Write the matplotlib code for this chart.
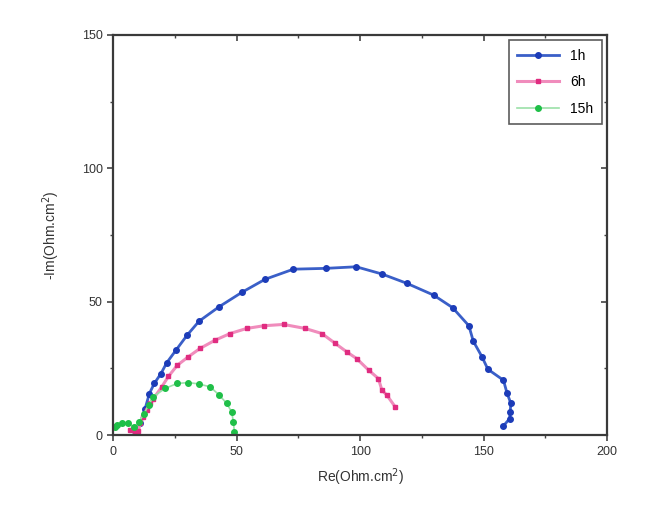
import numpy as np
import matplotlib.pyplot as plt

# Nyquist data
re_1h = [9, 11, 13, 14.7, 16.7, 19.4, 21.7, 25.5, 30, 34.8, 42.9, 52.1, 61.5, 73,
         86, 98.4, 108.8, 118.9, 129.7, 137.4, 144, 145.8, 149.3, 151.7, 158,
         159.4, 161, 160.7, 160.5, 158]
im_1h = [0, 4.5, 10, 15.6, 19.4, 23.1, 27.1, 31.9, 37.5, 42.7, 48.1, 53.5, 58.4, 62.2,
         62.5, 63.1, 60.4, 56.9, 52.5, 47.8, 41, 35.2, 29.4, 24.7, 20.6,
         15.9, 11.9, 8.7, 6.2, 3.5]

re_6h = [7, 9, 10.2, 11, 12.3, 13.6, 15, 16.3, 19.7, 22.4, 26, 30.5, 35.2, 41.3,
         47.4, 54.1, 61, 69, 77.7, 84.5, 89.9, 94.6, 98.6, 103.4, 107.4, 108.8,
         110.8, 114.2]
im_6h = [1.9, 1.2, 1.5, 4.4, 6.9, 9.4, 11.9, 13.7, 18.1, 22, 26.2, 29.4, 32.5, 35.6,
         38.1, 40, 41, 41.5, 40, 38.1, 34.4, 31.2, 28.7, 24.4, 21.2, 16.9,
         15, 10.6]

re_15h = [0.8, 1.5, 3.5, 6.2, 8.5, 10.5, 12.5, 14.5, 16.3, 21, 26, 30.5, 34.8, 39.3,
          42.8, 46, 48, 48.7, 49.1]
im_15h = [3.1, 3.75, 4.4, 4.4, 3, 5, 8, 11.5, 14.4, 17.5, 19.4, 19.7, 19.2, 18.1,
          15.2, 11.9, 8.7, 5, 1.2]

labels = ['1h', '6h', '15h']

plt.rcParams['font.family'] = ['Liberation Sans', 'DejaVu Sans']

fig = plt.figure(figsize=(6.46, 5.12), dpi=100)
ax = fig.add_axes([0.175, 0.150, 0.765, 0.782])

ax.plot(re_1h, im_1h, '-o', color='#3a5fc8', lw=2, ms=4,
        mfc='#1c3cb8', mec='#1c3cb8', label=labels[0])
ax.plot(re_6h, im_6h, '-s', color='#f08cbc', lw=2.2, ms=3.5,
        mfc='#e02c80', mec='#e02c80', label=labels[1])
ax.plot(re_15h, im_15h, '-o', color='#9be0a8', lw=1.2, ms=4,
        mfc='#1fbf48', mec='#1fbf48', label=labels[2])

ax.set_xlim(0, 200)
ax.set_ylim(0, 150)
ax.set_xticks([0, 50, 100, 150, 200])
ax.set_yticks([0, 50, 100, 150])
ax.set_xticks(np.arange(25, 200, 50), minor=True)
ax.set_yticks(np.arange(25, 150, 50), minor=True)
ax.tick_params(which='both', direction='out', labelsize=9, color='#444444',
               labelcolor='#333333')
ax.tick_params(which='major', length=4, width=1.2)
ax.tick_params(which='minor', length=2.5, width=1)

for s in ax.spines.values():
    s.set_linewidth(1.6)
    s.set_color('#3a3a3a')

# mirrored ticks on top and right, pointing inward
top = ax.secondary_xaxis('top')
top.set_xticks([0, 50, 100, 150, 200])
top.set_xticks(np.arange(25, 200, 50), minor=True)
top.tick_params(which='both', direction='in', labeltop=False, color='#444444')
top.tick_params(which='major', length=4, width=1.2)
top.tick_params(which='minor', length=2.5, width=1)
top.spines['top'].set_visible(False)
right = ax.secondary_yaxis('right')
right.set_yticks([0, 50, 100, 150])
right.set_yticks(np.arange(25, 150, 50), minor=True)
right.tick_params(which='both', direction='in', labelright=False, color='#444444')
right.tick_params(which='major', length=4, width=1.2)
right.tick_params(which='minor', length=2.5, width=1)
right.spines['right'].set_visible(False)

ax.set_xlabel(r'Re(Ohm.cm$^2$)', fontsize=10, color='#333333', labelpad=6)
ax.set_ylabel(r'-Im(Ohm.cm$^2$)', fontsize=10, color='#333333', labelpad=14)

leg = ax.legend(loc='upper right', fontsize=10, frameon=True, fancybox=False,
                edgecolor='#333333', handlelength=3.0, borderpad=0.6,
                labelspacing=0.9, handletextpad=0.8, borderaxespad=0.4)
leg.get_frame().set_linewidth(1.2)

plt.savefig('out.png', dpi=100)
